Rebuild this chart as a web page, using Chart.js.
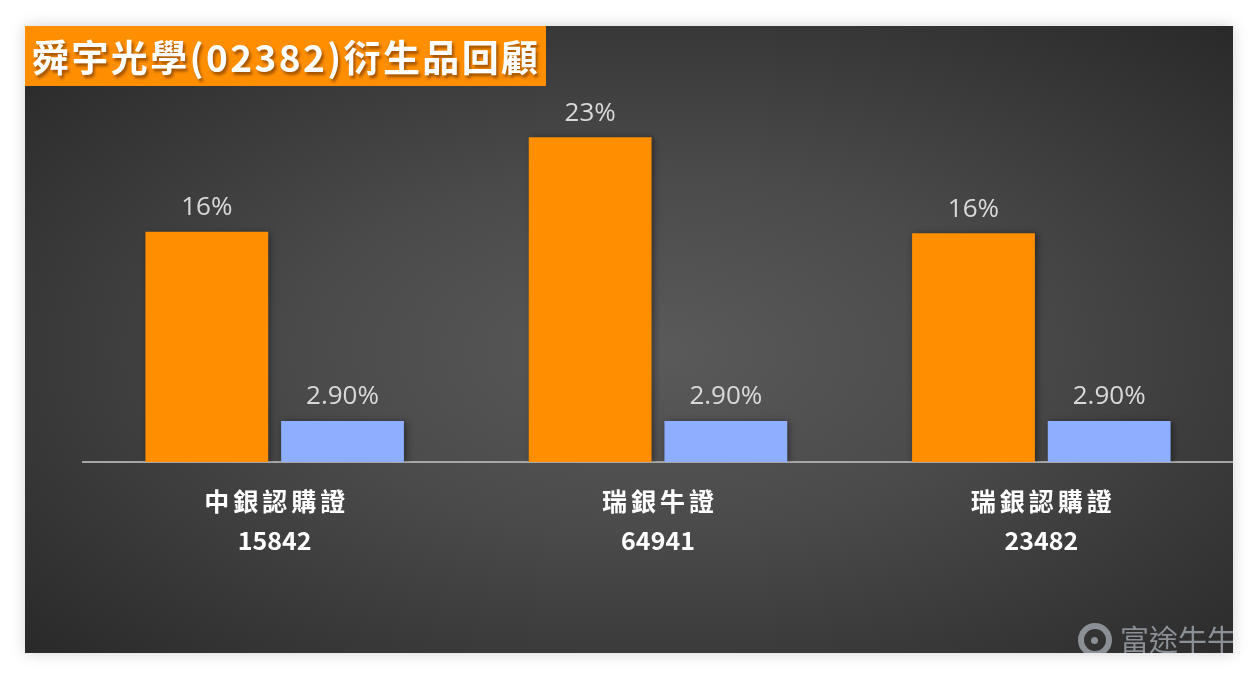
<!DOCTYPE html>
<html>
<head>
<meta charset="utf-8">
<script src="https://cdn.jsdelivr.net/npm/chart.js@4.4.0/dist/chart.umd.min.js"></script>
<style>
  html, body { margin:0; padding:0; background:#ffffff; width:1257px; height:677px; overflow:hidden; }
  #panel {
    position:absolute; left:25px; top:26px; width:1208px; height:627px; overflow:hidden;
    background: radial-gradient(ellipse farthest-corner at 52% 52%, #5a5a5a 0%, #4a4a4a 40%, #272727 100%);
    box-shadow: 0 0 14px rgba(0,0,0,0.18);
  }
  #chart { position:absolute; left:0; top:0; }
  #title {
    position:absolute; left:0; top:0; height:60px; width:521px; background:#ff8f00;
    color:#ffffff; font-family:"Noto Sans CJK TC","Noto Sans CJK SC",sans-serif; font-weight:bold;
    font-size:37px; line-height:60px; padding-left:7px; box-sizing:border-box; white-space:nowrap;
    letter-spacing:2.4px;
    text-shadow: 2px 3px 3px rgba(110,50,0,0.65);
  }
  #wm {
    position:absolute; left:1095px; top:596px; color:#8b9096;
    font-family:"Noto Sans CJK TC","Noto Sans CJK SC",sans-serif; font-size:29px; line-height:32px; white-space:nowrap;
  }
  #wmicon {
    position:absolute; left:1053px; top:597px; width:34px; height:34px; border-radius:50%;
    border:6px solid #8b9096; box-sizing:border-box;
  }
  #wmdot {
    position:absolute; left:1066px; top:611px; width:7px; height:7px; border-radius:50%; background:#8b9096;
  }
</style>
</head>
<body>
<div id="panel">
  <canvas id="chart" width="1208" height="627"></canvas>
  <div id="title">舜宇光學(02382)衍生品回顧</div>
  <div id="wmicon"></div>
  <div id="wmdot"></div>
  <div id="wm">富途牛牛</div>
</div>
<script>
const chartTitle = "舜宇光學(02382)衍生品回顧";
const categories = [["中銀認購證","15842"],["瑞銀牛證","64941"],["瑞銀認購證","23482"]];
const orangeValues = [16.3, 23.0, 16.2];
const orangeLabels = ["16%", "23%", "16%"];
const blueValues = [2.9, 2.9, 2.9];
const blueLabels = ["2.90%", "2.90%", "2.90%"];
const yMax = 25;

// widen CJK axis labels slightly (reference font has wider CJK spacing)
const cjkSpacingPlugin = {
  id: 'cjkSpacing',
  beforeInit(chart) {
    const ctx = chart.ctx;
    const orig = ctx.fillText.bind(ctx);
    ctx.fillText = function(text, x, y, maxW) {
      const cjk = typeof text === 'string' && /[\u4e00-\u9fff]/.test(text);
      if ('letterSpacing' in ctx) {
        const f = ctx.font;
        ctx.letterSpacing = cjk ? '4px' : '0px';
        ctx.font = f;
      }
      orig(text, cjk ? x + 2 : x, y, maxW);
      if ('letterSpacing' in ctx) {
        const f = ctx.font;
        ctx.letterSpacing = '0px';
        ctx.font = f;
      }
    };
  }
};

const labelsPlugin = {
  id: 'valueLabels',
  beforeDatasetsDraw(chart) {
    const ctx = chart.ctx;
    ctx.save();
    ctx.shadowColor = 'rgba(0,0,0,0.45)';
    ctx.shadowBlur = 7;
    ctx.shadowOffsetX = 2;
    ctx.shadowOffsetY = 1;
  },
  afterDatasetsDraw(chart) {
    const ctx = chart.ctx;
    ctx.restore();
    ctx.save();
    ctx.font = '26px "Open Sans", "Noto Sans", sans-serif';
    ctx.fillStyle = '#d9d9d9';
    ctx.textAlign = 'center';
    ctx.textBaseline = 'middle';
    chart.data.datasets.forEach((ds, di) => {
      const meta = chart.getDatasetMeta(di);
      meta.data.forEach((bar, i) => {
        ctx.fillText(ds.valueLabels[i], bar.x, bar.y - 24);
      });
    });
    ctx.restore();
  }
};

new Chart(document.getElementById('chart'), {
  type: 'bar',
  data: {
    labels: categories,
    datasets: [
      { label: 'A', data: orangeValues, valueLabels: orangeLabels, backgroundColor: '#ff8f00',
        barPercentage: 0.905, categoryPercentage: 0.708 },
      { label: 'B', data: blueValues, valueLabels: blueLabels, backgroundColor: '#8eaeff',
        barPercentage: 0.905, categoryPercentage: 0.708 }
    ]
  },
  options: {
    responsive: false,
    animation: false,
    layout: { padding: { left: 58, right: 0, top: 83, bottom: 0 } },
    plugins: { legend: { display: false }, tooltip: { enabled: false }, title: { display: false } },
    scales: {
      x: {
        grid: { display: false, drawTicks: false },
        border: { display: true, color: '#a6a6a6', width: 2 },
        ticks: {
          color: '#ffffff', padding: 20,
          font: { family: '"Noto Sans CJK TC","Noto Sans CJK SC",sans-serif', size: 25, weight: 'bold', lineHeight: 1.56 }
        },
        afterFit(scale) { scale.height = 191; }
      },
      y: { display: false, min: 0, max: yMax }
    }
  },
  plugins: [cjkSpacingPlugin, labelsPlugin]
});
</script>
</body>
</html>
